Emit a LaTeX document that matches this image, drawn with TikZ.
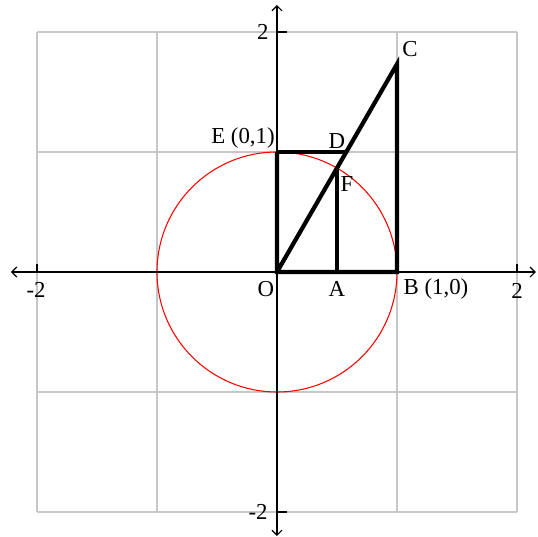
\documentclass[tikz,border=0pt]{standalone}
\usepackage{fontspec}
\setmainfont{Liberation Serif}
\usetikzlibrary{arrows.meta}
\begin{document}
\begin{tikzpicture}[x=2.4cm,y=2.4cm,
  gridline/.style={draw=black!22,line width=1.1pt},
  axisline/.style={draw=black,line width=0.7pt,{Straight Barb[length=0.1cm,width=0.2cm]}-{Straight Barb[length=0.1cm,width=0.2cm]}},
  tickline/.style={draw=black,line width=0.7pt},
  thick line/.style={draw=black,line width=2.4pt},
  circ/.style={draw=red,line width=0.6pt},
  lbl/.style={font=\fontsize{13}{13}\selectfont,inner sep=0pt}]
\useasboundingbox (-2.3083,-2.2083) rectangle (2.175,2.2667);
% grid
\foreach \v in {-2,-1,0,1,2}{
  \draw[gridline] (\v,-2) -- (\v,2);
  \draw[gridline] (-2,\v) -- (2,\v);
}
% circle
\coordinate (O) at (0,0);
\draw[circ] (O) circle (1);
% axes
\coordinate (xl) at (-2.2167,0);
\coordinate (xr) at (2.1583,0);
\coordinate (yt) at (0,2.225);
\coordinate (yb) at (0,-2.2);
\draw[axisline] (xl) -- (xr);
\draw[axisline] (yb) -- (yt);
% ticks
\coordinate (tx1) at (-2,0); \coordinate (tx1e) at (-2,0.065);
\coordinate (tx2) at (2,0); \coordinate (tx2e) at (2,0.065);
\coordinate (ty1) at (0,2); \coordinate (ty1e) at (0.085,2);
\coordinate (ty2) at (0,-2); \coordinate (ty2e) at (0.085,-2);
\draw[tickline] (tx1) -- (tx1e);
\draw[tickline] (tx2) -- (tx2e);
\draw[tickline] (ty1) -- (ty1e);
\draw[tickline] (ty2) -- (ty2e);
% points
\coordinate (A) at (0.5,0);
\coordinate (B) at (1,0);
\coordinate (C) at (1,1.7321);
\coordinate (D) at (0.5774,1);
\coordinate (E) at (0,1);
\coordinate (F) at (0.5,0.8660);
% thick figure
\draw[thick line,line join=miter] (E) -- (O) -- (B) -- (C) -- (O);
\draw[thick line] (E) -- (D);
\draw[thick line] (A) -- (F);
% labels
\node[lbl] (l2t) at (-0.117,2.0) {2};
\node[lbl] (l2r) at (2.0,-0.158) {2};
\node[lbl] (lm2l) at (-2.008,-0.15) {-2};
\node[lbl] (lm2b) at (-0.158,-2.0) {-2};
\node[lbl] (lC) at (1.108,1.858) {C};
\node[lbl] (lD) at (0.5,1.092) {D};
\node[lbl] (lE) at (-0.283,1.117) {E (0,1)};
\node[lbl] (lF) at (0.583,0.733) {F};
\node[lbl] (lO) at (-0.092,-0.142) {O};
\node[lbl] (lA) at (0.5,-0.142) {A};
\node[lbl] (lB) at (1.325,-0.142) {B (1,0)};
\end{tikzpicture}
\end{document}
